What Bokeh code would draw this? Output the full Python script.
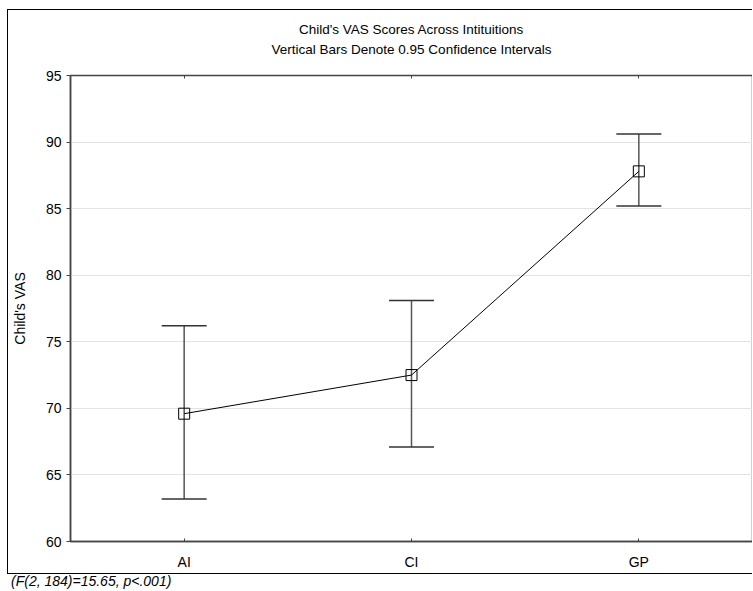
from bokeh.plotting import figure
from bokeh.models import (ColumnDataSource, Whisker, TeeHead, Range1d, FixedTicker,
                          CategoricalAxis, Title, Div)
from bokeh.layouts import column
from bokeh.embed import file_html
from bokeh.resources import INLINE

categories = ["AI", "CI", "GP"]
means = [69.6, 72.5, 87.8]
lower = [63.2, 67.1, 85.2]
upper = [76.2, 78.1, 90.6]
y_ticks = [60, 65, 70, 75, 80, 85, 90, 95]
y_label = "Child's VAS"
title1 = "Child's VAS Scores Across Intituitions"
title2 = "Vertical Bars Denote 0.95 Confidence Intervals"
footnote = "(F(2, 184)=15.65, p<.001)"

FONT = "Liberation Sans"
AX = "#444444"

src = ColumnDataSource(dict(x=categories, m=means, lo=lower, up=upper))

p = figure(x_range=categories, y_range=Range1d(60, 95), width=745, height=565,
           output_backend="svg", toolbar_location=None, title=None,
           min_border_left=61, min_border_right=1, min_border_top=65, min_border_bottom=34)
p.styles = {"border-top": "1px solid #000", "border-left": "1px solid #000",
            "border-bottom": "1px solid #000"}

p.outline_line_color = AX
p.outline_line_width = 1.5
p.xgrid.visible = False
p.ygrid.grid_line_color = "#e3e3e3"
p.ygrid.ticker = FixedTicker(ticks=y_ticks)

# y axis
ya = p.yaxis[0]
ya.ticker = FixedTicker(ticks=y_ticks)
ya.axis_label = y_label
ya.axis_label_text_font = FONT
ya.axis_label_text_font_style = "normal"
ya.axis_label_text_font_size = "14px"
ya.axis_label_text_color = "#000"
ya.axis_label_standoff = 15
ya.major_label_text_font = FONT
ya.major_label_text_font_size = "14px"
ya.major_label_text_color = "#000"
ya.major_label_standoff = 5
ya.major_tick_out = 4
ya.major_tick_in = 0
ya.minor_tick_out = 0
ya.minor_tick_in = 0
ya.axis_line_color = AX
ya.axis_line_width = 1.5
ya.major_tick_line_color = AX

# x axis
xa = p.xaxis[0]
xa.major_label_text_font = FONT
xa.major_label_text_font_size = "14px"
xa.major_label_text_font_style = "normal"
xa.major_label_text_color = "#000"
xa.major_label_standoff = 12
xa.major_tick_in = 3
xa.major_tick_out = 0
xa.axis_line_color = AX
xa.axis_line_width = 1.5
xa.major_tick_line_color = AX

# top axis: ticks only; its axis label carries the second title line
top = CategoricalAxis(major_label_text_color=None, major_label_text_font_size="12px",
                      major_tick_in=3, major_tick_out=0, major_label_standoff=0,
                      axis_line_color=AX, major_tick_line_color=AX,
                      axis_label=title2, axis_label_text_font=FONT,
                      axis_label_text_font_size="13.5px", axis_label_text_font_style="normal",
                      axis_label_text_color="#000", axis_label_standoff=19)
p.add_layout(top, "above")
p.add_layout(Title(text=title1, align="center", text_font=FONT, text_font_size="13.5px",
                   text_font_style="normal", text_color="#000", standoff=3), "above")

w = Whisker(base="x", lower="lo", upper="up", source=src, line_color="#555555", line_width=1.5,
            upper_head=TeeHead(size=45, line_color="#333333", line_width=1.5),
            lower_head=TeeHead(size=45, line_color="#333333", line_width=1.5))
p.add_layout(w)

p.line("x", "m", source=src, line_color="#000", line_width=1)
p.scatter("x", "m", source=src, marker="square", size=11, fill_alpha=0,
          line_color="#000", line_width=1)

note = Div(text=footnote, render_as_text=True, width=400, height=15, margin=(0, 0, 0, 4),
           styles={"font-family": FONT, "font-style": "italic", "font-size": "14px",
                   "color": "#000", "line-height": "15px"})

layout = column(p, note, spacing=0, margin=(9, 0, 0, 7))
open("out.html", "w").write(file_html(layout, INLINE))
